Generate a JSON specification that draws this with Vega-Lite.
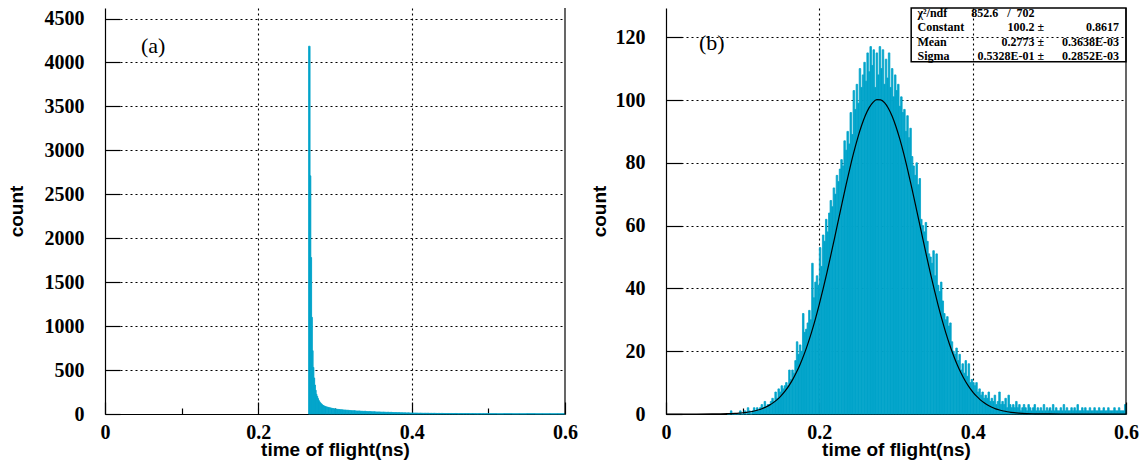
{
"$schema":"https://vega.github.io/schema/vega-lite/v6.json",
"background":"white",
"padding":{"left":7,"top":7,"right":5,"bottom":5},
"spacing":12,
"config":{
 "view":{"stroke":null},
 "axis":{"labelFont":"Liberation Serif","labelFontWeight":"bold","labelFontSize":20,"labelColor":"#000",
  "titleFont":"Liberation Sans","titleFontWeight":"bold","titleFontSize":19,"titleColor":"#000",
  "domainColor":"#000","domainWidth":1.2,"tickColor":"#000","tickWidth":1.2,
  "gridColor":"#000","gridDash":[2,3],"gridWidth":1.1,"labelFlush":false,"labelOverlap":false}
},
"datasets":{
"tofA":[
{"a":0.2655,"b":0.2675,"n":4185},{"a":0.2675,"b":0.2685,"n":2710},{"a":0.2685,"b":0.2695,"n":1780},{"a":0.2695,"b":0.2705,"n":1100},
{"a":0.2705,"b":0.2715,"n":720},{"a":0.2715,"b":0.2725,"n":530},{"a":0.2725,"b":0.2735,"n":410},{"a":0.2735,"b":0.2745,"n":330},
{"a":0.2745,"b":0.2755,"n":270},{"a":0.2755,"b":0.2765,"n":225},{"a":0.2765,"b":0.2775,"n":200},{"a":0.2775,"b":0.2785,"n":175},
{"a":0.2785,"b":0.2795,"n":155},{"a":0.2795,"b":0.2805,"n":140},{"a":0.2805,"b":0.2815,"n":128},{"a":0.2815,"b":0.2825,"n":118},
{"a":0.2825,"b":0.2835,"n":110},{"a":0.2835,"b":0.2845,"n":102},{"a":0.2845,"b":0.2855,"n":96},{"a":0.2855,"b":0.2865,"n":92},
{"a":0.2865,"b":0.2885,"n":86},{"a":0.2885,"b":0.2905,"n":80},{"a":0.2905,"b":0.2925,"n":75},{"a":0.2925,"b":0.2945,"n":70},
{"a":0.2945,"b":0.2965,"n":66},{"a":0.2965,"b":0.2985,"n":62},{"a":0.2985,"b":0.3005,"n":59},{"a":0.3005,"b":0.3025,"n":56},
{"a":0.3025,"b":0.3045,"n":53},{"a":0.3045,"b":0.3065,"n":51},{"a":0.3065,"b":0.3085,"n":49},{"a":0.3085,"b":0.3105,"n":48},
{"a":0.3105,"b":0.3125,"n":46},{"a":0.3125,"b":0.3145,"n":45},{"a":0.3145,"b":0.3165,"n":43},{"a":0.3165,"b":0.3185,"n":42},
{"a":0.3185,"b":0.3205,"n":40},{"a":0.3205,"b":0.3225,"n":38},{"a":0.3225,"b":0.3245,"n":37},{"a":0.3245,"b":0.3265,"n":38},
{"a":0.3265,"b":0.3285,"n":35},{"a":0.3285,"b":0.3305,"n":34},{"a":0.3305,"b":0.3325,"n":35},{"a":0.3325,"b":0.3345,"n":32},
{"a":0.3345,"b":0.3365,"n":31},{"a":0.3365,"b":0.3385,"n":30},{"a":0.3385,"b":0.3405,"n":31},{"a":0.3405,"b":0.3425,"n":28},
{"a":0.3425,"b":0.3445,"n":27},{"a":0.3445,"b":0.3465,"n":28},{"a":0.3465,"b":0.3485,"n":26},{"a":0.3485,"b":0.3505,"n":25},
{"a":0.3505,"b":0.3525,"n":26},{"a":0.3525,"b":0.3545,"n":24},{"a":0.3545,"b":0.3565,"n":23},{"a":0.3565,"b":0.3585,"n":24},
{"a":0.3585,"b":0.3605,"n":22},{"a":0.3605,"b":0.3625,"n":21},{"a":0.3625,"b":0.3645,"n":22},{"a":0.3645,"b":0.3665,"n":20},
{"a":0.3665,"b":0.3685,"n":19},{"a":0.3685,"b":0.3705,"n":20},{"a":0.3705,"b":0.3725,"n":18},{"a":0.3725,"b":0.3745,"n":19},
{"a":0.3745,"b":0.3765,"n":17},{"a":0.3765,"b":0.3785,"n":16},{"a":0.3785,"b":0.3805,"n":17},{"a":0.3805,"b":0.3825,"n":15},
{"a":0.3825,"b":0.3845,"n":16},{"a":0.3845,"b":0.3865,"n":14},{"a":0.3865,"b":0.3885,"n":15},{"a":0.3885,"b":0.3905,"n":13},
{"a":0.3905,"b":0.3925,"n":14},{"a":0.3925,"b":0.3945,"n":12},{"a":0.3945,"b":0.3965,"n":13},{"a":0.3965,"b":0.3985,"n":12},
{"a":0.3985,"b":0.4005,"n":11},{"a":0.4005,"b":0.4025,"n":12},{"a":0.4025,"b":0.4045,"n":10},{"a":0.4045,"b":0.4065,"n":11},
{"a":0.4065,"b":0.4085,"n":10},{"a":0.4085,"b":0.4105,"n":9},{"a":0.4105,"b":0.4125,"n":10},{"a":0.4125,"b":0.4145,"n":9},
{"a":0.4145,"b":0.4165,"n":8},{"a":0.4165,"b":0.4185,"n":9},{"a":0.4185,"b":0.4205,"n":8},{"a":0.4205,"b":0.4225,"n":9},
{"a":0.4225,"b":0.4245,"n":7},{"a":0.4245,"b":0.4265,"n":8},{"a":0.4265,"b":0.4285,"n":7},{"a":0.4285,"b":0.4305,"n":8},
{"a":0.4305,"b":0.4325,"n":7},{"a":0.4325,"b":0.4345,"n":6},{"a":0.4345,"b":0.4365,"n":7},{"a":0.4365,"b":0.4385,"n":6},
{"a":0.4385,"b":0.4405,"n":7},{"a":0.4405,"b":0.4425,"n":6},{"a":0.4425,"b":0.4445,"n":6},{"a":0.4445,"b":0.4465,"n":5},
{"a":0.4465,"b":0.4485,"n":6},{"a":0.4485,"b":0.4505,"n":5},{"a":0.4505,"b":0.4525,"n":6},{"a":0.4525,"b":0.4545,"n":5},
{"a":0.4545,"b":0.4565,"n":5},{"a":0.4565,"b":0.4585,"n":6},{"a":0.4585,"b":0.4605,"n":5},{"a":0.4605,"b":0.4625,"n":4},
{"a":0.4625,"b":0.4645,"n":5},{"a":0.4645,"b":0.4665,"n":5},{"a":0.4665,"b":0.4685,"n":4},{"a":0.4685,"b":0.4705,"n":5},
{"a":0.4705,"b":0.4725,"n":4},{"a":0.4725,"b":0.4745,"n":5},{"a":0.4745,"b":0.4765,"n":4},{"a":0.4765,"b":0.4785,"n":4},
{"a":0.4785,"b":0.4805,"n":5},{"a":0.4805,"b":0.4825,"n":4},{"a":0.4825,"b":0.4845,"n":4},{"a":0.4845,"b":0.4865,"n":3},
{"a":0.4865,"b":0.4885,"n":4},{"a":0.4885,"b":0.4905,"n":4},{"a":0.4905,"b":0.4925,"n":3},{"a":0.4925,"b":0.4945,"n":4},
{"a":0.4945,"b":0.4965,"n":3},{"a":0.4965,"b":0.4985,"n":4},{"a":0.4985,"b":0.5005,"n":3},
{"a":0.5005,"b":0.5105,"n":4},{"a":0.5105,"b":0.5205,"n":3},{"a":0.5205,"b":0.5305,"n":4},{"a":0.5305,"b":0.5405,"n":3},
{"a":0.5405,"b":0.5505,"n":3},{"a":0.5505,"b":0.5605,"n":4},{"a":0.5605,"b":0.5705,"n":3},{"a":0.5705,"b":0.5805,"n":3},
{"a":0.5805,"b":0.5905,"n":3},{"a":0.5905,"b":0.6,"n":3}
],
"tofB":[
{"a":0.080,"b":0.082,"n":0},{"a":0.082,"b":0.084,"n":0},{"a":0.084,"b":0.086,"n":1},{"a":0.086,"b":0.088,"n":0},
{"a":0.088,"b":0.090,"n":0},{"a":0.090,"b":0.092,"n":0},{"a":0.092,"b":0.094,"n":0},{"a":0.094,"b":0.096,"n":0},
{"a":0.096,"b":0.098,"n":1},{"a":0.098,"b":0.100,"n":0},{"a":0.100,"b":0.102,"n":0},{"a":0.102,"b":0.104,"n":1},
{"a":0.104,"b":0.106,"n":0},{"a":0.106,"b":0.108,"n":2},{"a":0.108,"b":0.110,"n":1},{"a":0.110,"b":0.112,"n":0},
{"a":0.112,"b":0.114,"n":1},{"a":0.114,"b":0.116,"n":2},{"a":0.116,"b":0.118,"n":1},{"a":0.118,"b":0.120,"n":2},
{"a":0.120,"b":0.122,"n":1},{"a":0.122,"b":0.124,"n":2},{"a":0.124,"b":0.126,"n":3},{"a":0.126,"b":0.128,"n":2},
{"a":0.128,"b":0.130,"n":4},{"a":0.130,"b":0.132,"n":2},{"a":0.132,"b":0.134,"n":3},{"a":0.134,"b":0.136,"n":3},
{"a":0.136,"b":0.138,"n":4},{"a":0.138,"b":0.140,"n":5},{"a":0.140,"b":0.142,"n":4},{"a":0.142,"b":0.144,"n":7},
{"a":0.144,"b":0.146,"n":5},{"a":0.146,"b":0.148,"n":8},{"a":0.148,"b":0.150,"n":7},{"a":0.150,"b":0.152,"n":9},
{"a":0.152,"b":0.154,"n":8},{"a":0.154,"b":0.156,"n":9},{"a":0.156,"b":0.158,"n":10},{"a":0.158,"b":0.160,"n":9},
{"a":0.160,"b":0.162,"n":14},{"a":0.162,"b":0.164,"n":11},{"a":0.164,"b":0.166,"n":14},{"a":0.166,"b":0.168,"n":13},
{"a":0.168,"b":0.170,"n":17},{"a":0.170,"b":0.172,"n":23},{"a":0.172,"b":0.174,"n":19},{"a":0.174,"b":0.176,"n":22},
{"a":0.176,"b":0.178,"n":20},{"a":0.178,"b":0.180,"n":32},{"a":0.180,"b":0.182,"n":26},{"a":0.182,"b":0.184,"n":27},
{"a":0.184,"b":0.186,"n":29},{"a":0.186,"b":0.188,"n":33},{"a":0.188,"b":0.190,"n":30},{"a":0.190,"b":0.192,"n":48},
{"a":0.192,"b":0.194,"n":37},{"a":0.194,"b":0.196,"n":42},{"a":0.196,"b":0.198,"n":44},{"a":0.198,"b":0.200,"n":41},
{"a":0.200,"b":0.202,"n":53},{"a":0.202,"b":0.204,"n":47},{"a":0.204,"b":0.206,"n":57},{"a":0.206,"b":0.208,"n":55},
{"a":0.208,"b":0.210,"n":62},{"a":0.210,"b":0.212,"n":58},{"a":0.212,"b":0.214,"n":64},{"a":0.214,"b":0.216,"n":68},
{"a":0.216,"b":0.218,"n":66},{"a":0.218,"b":0.220,"n":72},{"a":0.220,"b":0.222,"n":70},{"a":0.222,"b":0.224,"n":76},
{"a":0.224,"b":0.226,"n":74},{"a":0.226,"b":0.228,"n":78},{"a":0.228,"b":0.230,"n":81},{"a":0.230,"b":0.232,"n":79},
{"a":0.232,"b":0.234,"n":87},{"a":0.234,"b":0.236,"n":84},{"a":0.236,"b":0.238,"n":90},{"a":0.238,"b":0.240,"n":86},
{"a":0.240,"b":0.242,"n":96},{"a":0.242,"b":0.244,"n":89},{"a":0.244,"b":0.246,"n":103},{"a":0.246,"b":0.248,"n":97},
{"a":0.248,"b":0.250,"n":105},{"a":0.250,"b":0.252,"n":99},{"a":0.252,"b":0.254,"n":110},{"a":0.254,"b":0.256,"n":104},
{"a":0.256,"b":0.258,"n":108},{"a":0.258,"b":0.260,"n":112},{"a":0.260,"b":0.262,"n":106},{"a":0.262,"b":0.264,"n":115},
{"a":0.264,"b":0.266,"n":109},{"a":0.266,"b":0.268,"n":117},{"a":0.268,"b":0.270,"n":111},{"a":0.270,"b":0.272,"n":116},
{"a":0.272,"b":0.274,"n":104},{"a":0.274,"b":0.276,"n":115},{"a":0.276,"b":0.278,"n":108},{"a":0.278,"b":0.280,"n":117},
{"a":0.280,"b":0.282,"n":110},{"a":0.282,"b":0.284,"n":116},{"a":0.284,"b":0.286,"n":105},{"a":0.286,"b":0.288,"n":113},
{"a":0.288,"b":0.290,"n":107},{"a":0.290,"b":0.292,"n":115},{"a":0.292,"b":0.294,"n":104},{"a":0.294,"b":0.296,"n":110},
{"a":0.296,"b":0.298,"n":101},{"a":0.298,"b":0.300,"n":108},{"a":0.300,"b":0.302,"n":103},{"a":0.302,"b":0.304,"n":105},
{"a":0.304,"b":0.306,"n":98},{"a":0.306,"b":0.308,"n":101},{"a":0.308,"b":0.310,"n":96},{"a":0.310,"b":0.312,"n":97},
{"a":0.312,"b":0.314,"n":90},{"a":0.314,"b":0.316,"n":95},{"a":0.316,"b":0.318,"n":88},{"a":0.318,"b":0.320,"n":91},
{"a":0.320,"b":0.322,"n":82},{"a":0.322,"b":0.324,"n":79},{"a":0.324,"b":0.326,"n":76},{"a":0.326,"b":0.328,"n":80},
{"a":0.328,"b":0.330,"n":73},{"a":0.330,"b":0.332,"n":75},{"a":0.332,"b":0.334,"n":62},{"a":0.334,"b":0.336,"n":60},
{"a":0.336,"b":0.338,"n":58},{"a":0.338,"b":0.340,"n":61},{"a":0.340,"b":0.342,"n":55},{"a":0.342,"b":0.344,"n":51},
{"a":0.344,"b":0.346,"n":50},{"a":0.346,"b":0.348,"n":48},{"a":0.348,"b":0.350,"n":52},{"a":0.350,"b":0.352,"n":44},
{"a":0.352,"b":0.354,"n":51},{"a":0.354,"b":0.356,"n":41},{"a":0.356,"b":0.358,"n":39},{"a":0.358,"b":0.360,"n":42},
{"a":0.360,"b":0.362,"n":36},{"a":0.362,"b":0.364,"n":32},{"a":0.364,"b":0.366,"n":30},{"a":0.366,"b":0.368,"n":31},
{"a":0.368,"b":0.370,"n":28},{"a":0.370,"b":0.372,"n":29},{"a":0.372,"b":0.374,"n":23},{"a":0.374,"b":0.376,"n":20},
{"a":0.376,"b":0.378,"n":19},{"a":0.378,"b":0.380,"n":21},{"a":0.380,"b":0.382,"n":17},{"a":0.382,"b":0.384,"n":19},
{"a":0.384,"b":0.386,"n":14},{"a":0.386,"b":0.388,"n":16},{"a":0.388,"b":0.390,"n":13},{"a":0.390,"b":0.392,"n":17},
{"a":0.392,"b":0.394,"n":12},{"a":0.394,"b":0.396,"n":16},{"a":0.396,"b":0.398,"n":10},{"a":0.398,"b":0.400,"n":11},
{"a":0.400,"b":0.402,"n":10},{"a":0.402,"b":0.404,"n":9},{"a":0.404,"b":0.406,"n":10},{"a":0.406,"b":0.408,"n":7},
{"a":0.408,"b":0.410,"n":8},{"a":0.410,"b":0.412,"n":6},{"a":0.412,"b":0.414,"n":7},{"a":0.414,"b":0.416,"n":5},
{"a":0.416,"b":0.418,"n":6},{"a":0.418,"b":0.420,"n":5},{"a":0.420,"b":0.422,"n":7},{"a":0.422,"b":0.424,"n":4},
{"a":0.424,"b":0.426,"n":5},{"a":0.426,"b":0.428,"n":4},{"a":0.428,"b":0.430,"n":6},{"a":0.430,"b":0.432,"n":3},
{"a":0.432,"b":0.434,"n":4},{"a":0.434,"b":0.436,"n":7},{"a":0.436,"b":0.438,"n":3},{"a":0.438,"b":0.440,"n":4},
{"a":0.440,"b":0.442,"n":3},{"a":0.442,"b":0.444,"n":5},{"a":0.444,"b":0.446,"n":2},{"a":0.446,"b":0.448,"n":6},
{"a":0.448,"b":0.450,"n":3},{"a":0.450,"b":0.452,"n":2},{"a":0.452,"b":0.454,"n":3},{"a":0.454,"b":0.456,"n":2},
{"a":0.456,"b":0.458,"n":4},{"a":0.458,"b":0.460,"n":2},{"a":0.460,"b":0.462,"n":3},{"a":0.462,"b":0.464,"n":1},
{"a":0.464,"b":0.466,"n":2},{"a":0.466,"b":0.468,"n":3},{"a":0.468,"b":0.470,"n":2},{"a":0.470,"b":0.472,"n":1},
{"a":0.472,"b":0.474,"n":3},{"a":0.474,"b":0.476,"n":2},{"a":0.476,"b":0.478,"n":1},{"a":0.478,"b":0.480,"n":2},
{"a":0.480,"b":0.482,"n":3},{"a":0.482,"b":0.484,"n":1},{"a":0.484,"b":0.486,"n":2},{"a":0.486,"b":0.488,"n":1},
{"a":0.488,"b":0.490,"n":2},{"a":0.490,"b":0.492,"n":1},{"a":0.492,"b":0.494,"n":3},{"a":0.494,"b":0.496,"n":1},
{"a":0.496,"b":0.498,"n":2},{"a":0.498,"b":0.500,"n":1},{"a":0.500,"b":0.502,"n":2},{"a":0.502,"b":0.504,"n":1},
{"a":0.504,"b":0.506,"n":3},{"a":0.506,"b":0.508,"n":1},{"a":0.508,"b":0.510,"n":2},{"a":0.510,"b":0.512,"n":1},
{"a":0.512,"b":0.514,"n":1},{"a":0.514,"b":0.516,"n":2},{"a":0.516,"b":0.518,"n":1},{"a":0.518,"b":0.520,"n":3},
{"a":0.520,"b":0.522,"n":1},{"a":0.522,"b":0.524,"n":2},{"a":0.524,"b":0.526,"n":1},{"a":0.526,"b":0.528,"n":1},
{"a":0.528,"b":0.530,"n":2},{"a":0.530,"b":0.532,"n":1},{"a":0.532,"b":0.534,"n":2},{"a":0.534,"b":0.536,"n":1},
{"a":0.536,"b":0.538,"n":3},{"a":0.538,"b":0.540,"n":1},{"a":0.540,"b":0.542,"n":1},{"a":0.542,"b":0.544,"n":2},
{"a":0.544,"b":0.546,"n":1},{"a":0.546,"b":0.548,"n":2},{"a":0.548,"b":0.550,"n":1},{"a":0.550,"b":0.552,"n":1},
{"a":0.552,"b":0.554,"n":2},{"a":0.554,"b":0.556,"n":1},{"a":0.556,"b":0.558,"n":1},{"a":0.558,"b":0.560,"n":2},
{"a":0.560,"b":0.562,"n":1},{"a":0.562,"b":0.564,"n":1},{"a":0.564,"b":0.566,"n":2},{"a":0.566,"b":0.568,"n":1},
{"a":0.568,"b":0.570,"n":1},{"a":0.570,"b":0.572,"n":2},{"a":0.572,"b":0.574,"n":1},{"a":0.574,"b":0.576,"n":1},
{"a":0.576,"b":0.578,"n":2},{"a":0.578,"b":0.580,"n":1},{"a":0.580,"b":0.582,"n":1},{"a":0.582,"b":0.584,"n":1},
{"a":0.584,"b":0.586,"n":2},{"a":0.586,"b":0.588,"n":1},{"a":0.588,"b":0.590,"n":1},{"a":0.590,"b":0.592,"n":2},
{"a":0.592,"b":0.594,"n":1},{"a":0.594,"b":0.596,"n":1},{"a":0.596,"b":0.598,"n":1},{"a":0.598,"b":0.600,"n":3}
],
"fit":[
{"t":0,"g":0},{"t":0.04,"g":0},{"t":0.06,"g":0.02},{"t":0.08,"g":0.105},{"t":0.085,"g":0.149},{"t":0.09,"g":0.208},{"t":0.095,"g":0.288},
{"t":0.1,"g":0.395},{"t":0.105,"g":0.537},{"t":0.11,"g":0.724},{"t":0.115,"g":0.968},{"t":0.12,"g":1.283},{"t":0.125,"g":1.686},
{"t":0.13,"g":2.193},{"t":0.135,"g":2.831},{"t":0.14,"g":3.622},{"t":0.145,"g":4.591},{"t":0.15,"g":5.773},{"t":0.155,"g":7.19},
{"t":0.16,"g":8.88},{"t":0.165,"g":10.87},{"t":0.17,"g":13.19},{"t":0.175,"g":15.86},{"t":0.18,"g":18.91},{"t":0.185,"g":22.35},
{"t":0.19,"g":26.17},{"t":0.195,"g":30.39},{"t":0.2,"g":34.98},{"t":0.205,"g":39.9},{"t":0.21,"g":45.13},{"t":0.215,"g":50.58},
{"t":0.22,"g":56.19},{"t":0.225,"g":61.89},{"t":0.23,"g":67.58},{"t":0.235,"g":73.12},{"t":0.24,"g":78.42},{"t":0.245,"g":83.39},
{"t":0.25,"g":87.88},{"t":0.255,"g":91.79},{"t":0.26,"g":95.06},{"t":0.265,"g":97.57},{"t":0.27,"g":99.27},{"t":0.275,"g":100.11},
{"t":0.28,"g":100.07},{"t":0.285,"g":99.16},{"t":0.29,"g":97.39},{"t":0.295,"g":94.82},{"t":0.3,"g":91.5},{"t":0.305,"g":87.53},
{"t":0.31,"g":83.0},{"t":0.315,"g":78.0},{"t":0.32,"g":72.68},{"t":0.325,"g":67.11},{"t":0.33,"g":61.43},{"t":0.335,"g":55.74},
{"t":0.34,"g":50.14},{"t":0.345,"g":44.7},{"t":0.35,"g":39.5},{"t":0.355,"g":34.6},{"t":0.36,"g":30.04},{"t":0.365,"g":25.85},
{"t":0.37,"g":22.05},{"t":0.375,"g":18.65},{"t":0.38,"g":15.63},{"t":0.385,"g":12.99},{"t":0.39,"g":10.69},{"t":0.395,"g":8.73},
{"t":0.4,"g":7.07},{"t":0.405,"g":5.67},{"t":0.41,"g":4.51},{"t":0.415,"g":3.55},{"t":0.42,"g":2.78},{"t":0.425,"g":2.15},
{"t":0.43,"g":1.65},{"t":0.435,"g":1.26},{"t":0.44,"g":0.95},{"t":0.445,"g":0.71},{"t":0.45,"g":0.52},{"t":0.46,"g":0.28},
{"t":0.47,"g":0.14},{"t":0.48,"g":0.07},{"t":0.5,"g":0.01},{"t":0.55,"g":0},{"t":0.6,"g":0}
],
"stats":[
{"col":"name","y":127.6,"t":"χ²/ndf"},{"col":"name","y":123.1,"t":"Constant"},{"col":"name","y":118.5,"t":"Mean"},{"col":"name","y":114.0,"t":"Sigma"},
{"col":"chi","y":127.6,"t":"852.6\u00a0\u00a0\u00a0/\u00a0\u00a0702"},
{"col":"val","y":123.1,"t":"100.2 ±"},{"col":"val","y":118.5,"t":"0.2773 ±"},{"col":"val","y":114.0,"t":"0.5328E-01 ±"},
{"col":"err","y":123.1,"t":"0.8617"},{"col":"err","y":118.5,"t":"0.3638E-03"},{"col":"err","y":114.0,"t":"0.2852E-03"}
]
},
"hconcat":[
{
 "width":460,"height":406,
 "layer":[
  {"data":{"name":"tofA"},"mark":{"type":"bar","color":"#03a4ca","stroke":"#03a4ca","strokeWidth":0.8},
   "encoding":{
    "x":{"field":"a","type":"quantitative","scale":{"domain":[0,0.6],"nice":false},
     "axis":{"values":[0,0.05,0.1,0.15,0.2,0.25,0.3,0.35,0.4,0.45,0.5,0.55,0.6],"format":"~g","title":"time of flight(ns)",
      "labelExpr":"abs(datum.value*5-round(datum.value*5))<0.001 ? datum.label : ''",
      "tickSize":{"condition":{"test":"abs(datum.value*5-round(datum.value*5))<0.001","value":-12},"value":-6},
      "grid":true,
      "gridOpacity":{"condition":{"test":"abs(datum.value*5-round(datum.value*5))<0.001 && datum.value>0.01 && datum.value<0.59","value":1},"value":0},
      "labelPadding":20,"titlePadding":-8}},
    "x2":{"field":"b"},
    "y":{"field":"n","type":"quantitative","scale":{"domain":[0,4620],"nice":false},
     "axis":{"values":[0,250,500,750,1000,1250,1500,1750,2000,2250,2500,2750,3000,3250,3500,3750,4000,4250,4500],"format":"d","title":"count",
      "labelExpr":"datum.value % 500 === 0 ? datum.label : ''",
      "tickSize":{"condition":{"test":"datum.value % 500 === 0","value":-15},"value":-8},
      "grid":true,
      "gridOpacity":{"condition":{"test":"datum.value % 500 === 0 && datum.value > 0","value":1},"value":0},
      "labelPadding":36,"titlePadding":18}},
    "y2":{"datum":0}
   }},
  {"data":{"values":[{}]},"mark":{"type":"rule","color":"#000","strokeWidth":1.2},"encoding":{"x":{"datum":0.6}}},
  {"data":{"values":[{"x":0.047,"y":4190,"label":"(a)"}]},"mark":{"type":"text","font":"Liberation Serif","fontSize":22,"align":"left","baseline":"middle","color":"#000"},
   "encoding":{"x":{"field":"x","type":"quantitative"},"y":{"field":"y","type":"quantitative"},"text":{"field":"label"}}}
 ]
},
{
 "width":460,"height":406,
 "layer":[
  {"data":{"name":"tofB"},"mark":{"type":"bar","color":"#03a4ca","stroke":"#03a4ca","strokeWidth":0.8},
   "encoding":{
    "x":{"field":"a","type":"quantitative","scale":{"domain":[0,0.6],"nice":false},
     "axis":{"values":[0,0.05,0.1,0.15,0.2,0.25,0.3,0.35,0.4,0.45,0.5,0.55,0.6],"format":"~g","title":"time of flight(ns)",
      "labelExpr":"abs(datum.value*5-round(datum.value*5))<0.001 ? datum.label : ''",
      "tickSize":{"condition":{"test":"abs(datum.value*5-round(datum.value*5))<0.001","value":-12},"value":-6},
      "grid":true,
      "gridOpacity":{"condition":{"test":"abs(datum.value*5-round(datum.value*5))<0.001 && datum.value>0.01 && datum.value<0.59","value":1},"value":0},
      "labelPadding":20,"titlePadding":-8}},
    "x2":{"field":"b"},
    "y":{"field":"n","type":"quantitative","scale":{"domain":[0,129.3],"nice":false},
     "axis":{"values":[0,5,10,15,20,25,30,35,40,45,50,55,60,65,70,75,80,85,90,95,100,105,110,115,120,125],"format":"d","title":"count",
      "labelExpr":"datum.value % 20 === 0 ? datum.label : ''",
      "tickSize":{"condition":{"test":"datum.value % 20 === 0","value":-16},"value":-7},
      "grid":true,
      "gridOpacity":{"condition":{"test":"datum.value % 20 === 0 && datum.value > 0","value":1},"value":0},
      "labelPadding":37,"titlePadding":6}},
    "y2":{"datum":0}
   }},
  {"data":{"name":"fit"},"mark":{"type":"line","color":"#000","strokeWidth":1.2,"interpolate":"monotone"},
   "encoding":{"x":{"field":"t","type":"quantitative"},"y":{"field":"g","type":"quantitative"}}},
  {"data":{"values":[{}]},"mark":{"type":"rule","color":"#000","strokeWidth":1.2},"encoding":{"x":{"datum":0.6}}},
  {"data":{"values":[{"x1":0.3198,"x2":0.6,"y1":112.2,"y2":129.3}]},"mark":{"type":"rect","fill":"transparent","stroke":"#000","strokeWidth":1.5},
   "encoding":{"x":{"field":"x1","type":"quantitative"},"x2":{"field":"x2"},"y":{"field":"y1","type":"quantitative"},"y2":{"field":"y2"}}},
  {"data":{"name":"stats"},"transform":[{"filter":"datum.col === 'name'"}],
   "mark":{"type":"text","font":"Liberation Serif","fontWeight":"bold","fontSize":12,"align":"left","baseline":"middle","color":"#000"},
   "encoding":{"x":{"datum":0.328},"y":{"field":"y","type":"quantitative"},"text":{"field":"t"}}},
  {"data":{"name":"stats"},"transform":[{"filter":"datum.col === 'chi'"}],
   "mark":{"type":"text","font":"Liberation Serif","fontWeight":"bold","fontSize":12,"align":"left","baseline":"middle","color":"#000"},
   "encoding":{"x":{"datum":0.398},"y":{"field":"y","type":"quantitative"},"text":{"field":"t"}}},
  {"data":{"name":"stats"},"transform":[{"filter":"datum.col === 'val'"}],
   "mark":{"type":"text","font":"Liberation Serif","fontWeight":"bold","fontSize":12,"align":"right","baseline":"middle","color":"#000"},
   "encoding":{"x":{"datum":0.4933},"y":{"field":"y","type":"quantitative"},"text":{"field":"t"}}},
  {"data":{"name":"stats"},"transform":[{"filter":"datum.col === 'err'"}],
   "mark":{"type":"text","font":"Liberation Serif","fontWeight":"bold","fontSize":12,"align":"right","baseline":"middle","color":"#000"},
   "encoding":{"x":{"datum":0.591},"y":{"field":"y","type":"quantitative"},"text":{"field":"t"}}},
  {"data":{"values":[{"x":0.043,"y":118,"label":"(b)"}]},"mark":{"type":"text","font":"Liberation Serif","fontSize":22,"align":"left","baseline":"middle","color":"#000"},
   "encoding":{"x":{"field":"x","type":"quantitative"},"y":{"field":"y","type":"quantitative"},"text":{"field":"label"}}}
 ]
}
]
}
